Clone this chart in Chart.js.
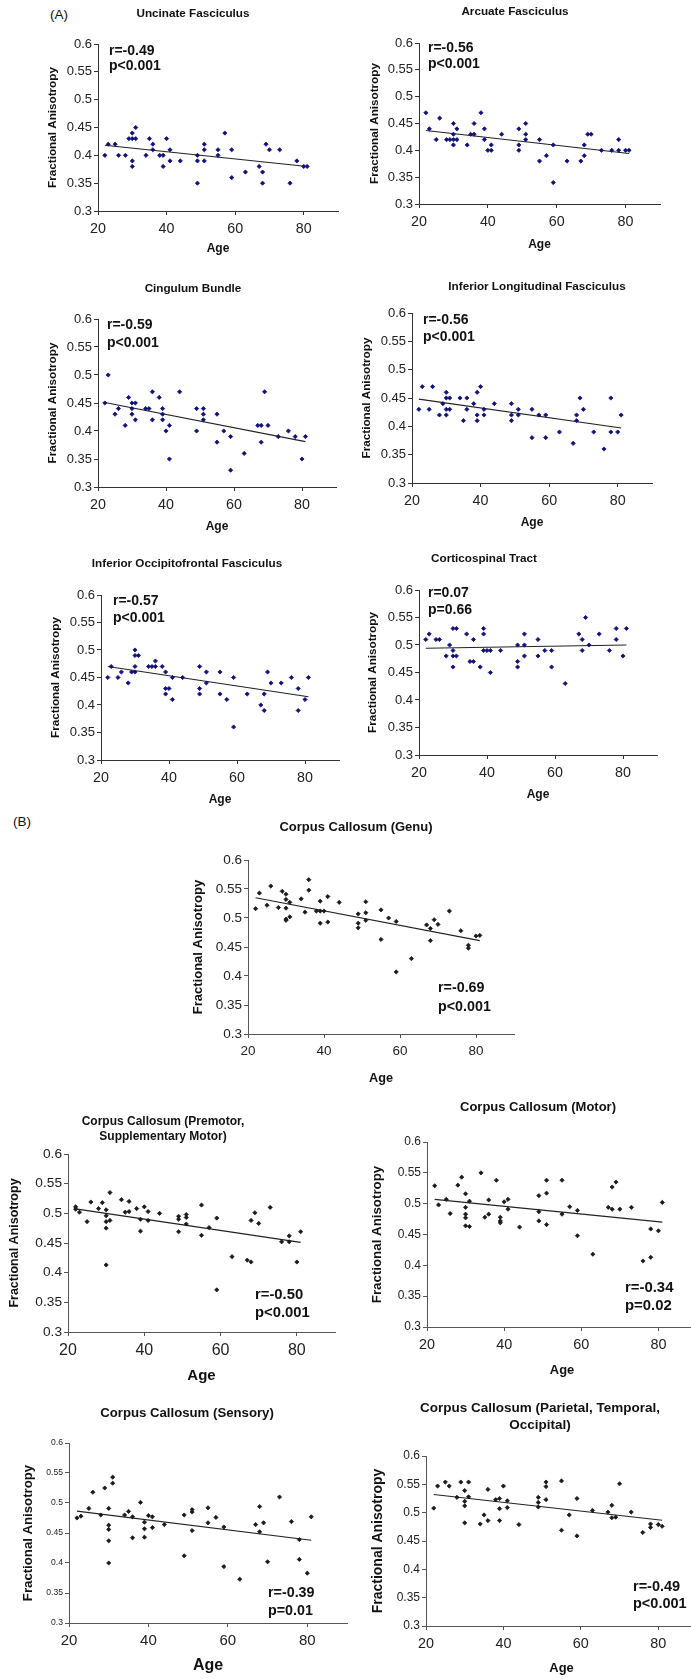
<!DOCTYPE html>
<html>
<head>
<meta charset="utf-8">
<title>Fractional anisotropy vs age</title>
<script src="https://cdn.jsdelivr.net/npm/chart.js@4/dist/chart.umd.min.js"></script>
<style>
  html, body { margin: 0; padding: 0; background: #fff; overflow: hidden; }
  body { position: relative; width: 691px; height: 1679px; font-family: "Liberation Sans", Arial, sans-serif; }
  canvas { position: absolute; }
  .tag { position: absolute; font-size: 13.5px; color: #111; line-height: 16px; }
</style>
</head>
<body>
<div class="tag" style="left:50px;top:7px">(A)</div>
<div class="tag" style="left:13px;top:814px">(B)</div>
<script>
// axis ticks shared by every panel
const xTicks = [20, 40, 60, 80];
const yTicks = [0.3, 0.35, 0.4, 0.45, 0.5, 0.55, 0.6];
const yTickLabels = ["0.3", "0.35", "0.4", "0.45", "0.5", "0.55", "0.6"];
const fitAges = [22, 81];

// (A) tracts
const uncinateAge = [22,23,25,26,28,29,30,30,30,30,31,31,34,35,36,36,38,39,39,40,41,41,44,49,49,49,51,51,51,55,55,57,59,59,63,67,68,68,69,70,73,76,78,80,81];
const uncinateFA = [0.40,0.42,0.42,0.40,0.40,0.43,0.44,0.43,0.39,0.38,0.45,0.43,0.40,0.43,0.42,0.41,0.40,0.40,0.38,0.43,0.41,0.39,0.39,0.40,0.39,0.35,0.42,0.41,0.39,0.41,0.40,0.44,0.41,0.36,0.37,0.38,0.37,0.35,0.42,0.41,0.41,0.35,0.39,0.38,0.38];
const uncinateFit = [0.418, 0.380];

const arcuateAge = [22,23,25,26,28,29,30,30,30,30,31,31,34,35,36,36,38,39,39,40,41,41,44,49,49,49,51,51,51,55,55,57,59,59,63,67,68,68,69,70,73,76,78,78,80,81];
const arcuateFA = [0.47,0.44,0.42,0.46,0.42,0.42,0.45,0.43,0.42,0.41,0.44,0.42,0.41,0.43,0.45,0.43,0.47,0.44,0.42,0.40,0.41,0.40,0.43,0.44,0.41,0.40,0.45,0.43,0.42,0.42,0.38,0.39,0.41,0.34,0.38,0.38,0.41,0.39,0.43,0.43,0.40,0.40,0.42,0.40,0.40,0.40];
const arcuateFit = [0.437, 0.394];

const cingulumAge = [22,23,25,26,28,29,30,30,30,31,31,34,35,36,36,38,39,39,39,40,41,41,44,49,49,51,51,51,55,55,57,59,59,63,67,68,68,69,70,73,76,78,80,81];
const cingulumFA = [0.45,0.50,0.43,0.44,0.41,0.46,0.45,0.44,0.43,0.45,0.42,0.44,0.44,0.47,0.42,0.46,0.44,0.43,0.42,0.40,0.41,0.35,0.47,0.44,0.40,0.44,0.43,0.42,0.43,0.38,0.40,0.39,0.33,0.36,0.41,0.41,0.38,0.47,0.41,0.39,0.40,0.39,0.35,0.39];
const cingulumFit = [0.451, 0.381];

const ilfAge = [22,23,25,26,28,29,30,30,30,30,31,31,34,35,36,36,38,39,39,39,40,41,41,44,49,49,49,51,51,55,55,57,59,59,63,67,68,68,69,70,73,76,78,78,80,81];
const ilfFA = [0.43,0.47,0.43,0.47,0.42,0.44,0.46,0.45,0.43,0.42,0.45,0.43,0.45,0.41,0.45,0.43,0.44,0.46,0.42,0.41,0.47,0.43,0.42,0.44,0.44,0.42,0.41,0.43,0.42,0.43,0.38,0.42,0.42,0.38,0.39,0.37,0.42,0.41,0.45,0.43,0.39,0.36,0.45,0.39,0.39,0.42];
const ilfFit = [0.448, 0.397];

const ifofAge = [22,23,25,26,28,29,30,30,30,30,31,34,35,36,36,38,39,39,39,40,41,41,44,49,49,49,51,51,55,55,57,59,59,63,67,68,68,69,70,73,76,78,78,80,81];
const ifofFA = [0.45,0.47,0.45,0.46,0.44,0.46,0.50,0.49,0.47,0.46,0.49,0.47,0.47,0.48,0.47,0.47,0.46,0.43,0.42,0.43,0.45,0.41,0.45,0.47,0.43,0.42,0.46,0.44,0.46,0.42,0.41,0.45,0.36,0.42,0.40,0.42,0.39,0.46,0.44,0.44,0.45,0.43,0.39,0.41,0.45];
const ifofFit = [0.470, 0.415];

const cstAge = [22,23,25,26,28,29,30,30,30,30,31,31,34,35,36,36,38,39,39,39,40,41,41,44,49,49,49,51,51,51,55,55,57,59,59,63,67,68,68,69,70,73,76,78,78,80,81];
const cstFA = [0.51,0.52,0.51,0.51,0.48,0.50,0.53,0.49,0.48,0.46,0.53,0.48,0.52,0.47,0.51,0.47,0.46,0.53,0.52,0.49,0.49,0.49,0.45,0.49,0.50,0.47,0.46,0.52,0.50,0.48,0.51,0.48,0.49,0.49,0.46,0.43,0.52,0.51,0.49,0.55,0.50,0.52,0.49,0.53,0.51,0.48,0.53];
const cstFit = [0.494, 0.500];

// (B) corpus callosum segments
const genuAge = [22,23,25,26,28,29,30,30,30,30,30,31,31,34,35,36,36,38,39,39,39,40,41,41,44,49,49,49,51,51,51,55,55,57,59,59,63,67,68,68,69,70,73,76,78,78,80,81];
const genuFA = [0.516,0.543,0.522,0.555,0.518,0.546,0.541,0.532,0.517,0.498,0.496,0.527,0.502,0.533,0.510,0.566,0.548,0.512,0.529,0.512,0.491,0.512,0.537,0.493,0.527,0.507,0.491,0.483,0.528,0.509,0.496,0.514,0.463,0.500,0.494,0.407,0.430,0.488,0.482,0.461,0.497,0.489,0.512,0.478,0.453,0.448,0.469,0.470];
const genuFit = [0.535, 0.461];

const premotorAge = [22,22,23,25,26,28,29,30,30,30,30,30,31,31,34,35,36,36,38,39,39,40,41,41,44,49,49,49,51,51,51,55,55,57,59,59,63,67,68,68,69,70,73,76,78,78,80,81];
const premotorFA = [0.511,0.507,0.502,0.486,0.519,0.508,0.518,0.506,0.496,0.486,0.475,0.413,0.535,0.488,0.523,0.502,0.520,0.503,0.508,0.490,0.470,0.511,0.503,0.488,0.500,0.495,0.490,0.469,0.498,0.493,0.482,0.514,0.463,0.476,0.492,0.371,0.427,0.421,0.418,0.488,0.501,0.483,0.510,0.452,0.462,0.452,0.418,0.469];
const premotorFit = [0.5075, 0.451];

const motorAge = [22,23,25,26,28,29,30,30,30,30,30,31,31,34,35,36,36,38,39,39,39,40,41,41,44,49,49,49,51,51,51,55,55,57,59,59,63,67,68,68,69,70,73,76,78,78,80,81];
const motorFA = [0.529,0.498,0.507,0.484,0.530,0.543,0.516,0.494,0.483,0.477,0.464,0.504,0.463,0.550,0.478,0.506,0.483,0.538,0.478,0.472,0.469,0.503,0.507,0.491,0.462,0.513,0.487,0.472,0.538,0.517,0.466,0.538,0.483,0.495,0.489,0.448,0.418,0.494,0.527,0.491,0.535,0.491,0.494,0.407,0.413,0.459,0.456,0.502];
const motorFit = [0.507, 0.470];

const sensoryAge = [22,23,25,26,28,29,30,30,30,30,30,31,31,34,35,36,36,38,39,39,39,40,41,41,44,49,49,51,51,51,55,55,57,59,59,63,67,68,68,69,70,73,76,78,78,80,81];
const sensoryFA = [0.475,0.478,0.491,0.518,0.480,0.525,0.491,0.463,0.456,0.437,0.400,0.543,0.533,0.480,0.486,0.477,0.442,0.501,0.468,0.457,0.443,0.479,0.477,0.459,0.464,0.480,0.412,0.489,0.485,0.454,0.492,0.467,0.476,0.460,0.394,0.373,0.464,0.494,0.452,0.467,0.402,0.510,0.469,0.439,0.406,0.383,0.477];
const sensoryFit = [0.4865, 0.438];

const parietalAge = [22,23,25,26,28,29,30,30,30,30,31,31,34,35,36,36,38,39,39,39,40,41,41,44,49,49,49,51,51,51,55,55,57,59,59,63,67,68,68,69,70,73,76,78,78,80,81];
const parietalFA = [0.508,0.547,0.554,0.547,0.527,0.554,0.539,0.520,0.512,0.482,0.554,0.528,0.480,0.496,0.541,0.486,0.523,0.525,0.507,0.486,0.547,0.521,0.509,0.479,0.527,0.518,0.510,0.554,0.546,0.523,0.556,0.469,0.496,0.525,0.459,0.504,0.501,0.513,0.491,0.492,0.551,0.501,0.465,0.480,0.474,0.479,0.476];
const parietalFit = [0.532, 0.4866];

const FONT = '"Liberation Sans", Arial, sans-serif';

// font sizes: title, y ticks, x ticks, y title, x title, r/p note
const fontsA = { title: 11.7, yTick: 13, xTick: 14.3, yTitle: 11.7, xTitle: 12, note: 14 };

// layout of each panel in page pixels
const panels = [
  { title: ["Uncinate Fasciculus"], tx: 193, ty: 14, age: uncinateAge, fa: uncinateFA, fit: uncinateFit,
    r: "r=-0.49", p: "p<0.001", note: [109, 51, 15], plot: [98, 338, 44, 211], yTitleX: 53, xTitleY: 249, f: fontsA, color: "#10107a" },
  { title: ["Arcuate Fasciculus"], tx: 515, ty: 12, age: arcuateAge, fa: arcuateFA, fit: arcuateFit,
    r: "r=-0.56", p: "p<0.001", note: [428, 48, 16.5], plot: [419, 660, 43, 204], yTitleX: 375, xTitleY: 245, f: fontsA, color: "#10107a" },
  { title: ["Cingulum Bundle"], tx: 193, ty: 289, age: cingulumAge, fa: cingulumFA, fit: cingulumFit,
    r: "r=-0.59", p: "p<0.001", note: [107, 325, 18], plot: [98, 336, 319, 487], yTitleX: 53, xTitleY: 527, f: fontsA, color: "#10107a" },
  { title: ["Inferior Longitudinal Fasciculus"], tx: 537, ty: 287, age: ilfAge, fa: ilfFA, fit: ilfFit,
    r: "r=-0.56", p: "p<0.001", note: [423, 320, 17.5], plot: [412, 652, 313, 483], yTitleX: 367, xTitleY: 523, f: fontsA, color: "#10107a" },
  { title: ["Inferior Occipitofrontal Fasciculus"], tx: 187, ty: 564, age: ifofAge, fa: ifofFA, fit: ifofFit,
    r: "r=-0.57", p: "p<0.001", note: [113, 601, 17.5], plot: [101, 339, 595, 760], yTitleX: 56, xTitleY: 800, f: fontsA, color: "#10107a" },
  { title: ["Corticospinal Tract"], tx: 484, ty: 559, age: cstAge, fa: cstFA, fit: cstFit,
    r: "r=0.07", p: "p=0.66", note: [428, 593, 17], plot: [419, 657, 590, 755], yTitleX: 373, xTitleY: 795, f: fontsA, color: "#10107a" },
  { title: ["Corpus Callosum (Genu)"], tx: 356, ty: 827, age: genuAge, fa: genuFA, fit: genuFit,
    r: "r=-0.69", p: "p<0.001", note: [438, 988, 19], plot: [248, 514, 860, 1034], yTitleX: 198, xTitleY: 1078,
    f: { title: 13, yTick: 13.5, xTick: 13.5, yTitle: 13, xTitle: 12.7, note: 14.3 }, color: "#1a1a1a" },
  { title: ["Corpus Callosum (Premotor,", "Supplementary Motor)"], tx: 163, ty: 1122, gap: 14.3, age: premotorAge, fa: premotorFA, fit: premotorFit,
    r: "r=-0.50", p: "p<0.001", note: [255, 1295, 18], plot: [68, 335, 1154, 1332], yTitleX: 15, xTitleY: 1376,
    f: { title: 12, yTick: 13.7, xTick: 16, yTitle: 12.5, xTitle: 15, note: 14.8 }, color: "#1a1a1a" },
  { title: ["Corpus Callosum (Motor)"], tx: 538, ty: 1107, age: motorAge, fa: motorFA, fit: motorFit,
    r: "r=-0.34", p: "p=0.02", note: [625, 1288, 18], plot: [427, 697, 1142, 1327], yTitleX: 377, xTitleY: 1370,
    f: { title: 13, yTick: 12, xTick: 14.4, yTitle: 13.3, xTitle: 12.9, note: 14.9 }, color: "#1a1a1a" },
  { title: ["Corpus Callosum (Sensory)"], tx: 187, ty: 1413, age: sensoryAge, fa: sensoryFA, fit: sensoryFit,
    r: "r=-0.39", p: "p=0.01", note: [268, 1593, 18], plot: [69, 347, 1443, 1623], yTitleX: 28, xTitleY: 1666,
    f: { title: 13.2, yTick: 8.6, xTick: 15, yTitle: 13.2, xTitle: 16, note: 14.3 }, color: "#1a1a1a" },
  { title: ["Corpus Callosum (Parietal, Temporal,", "Occipital)"], tx: 540, ty: 1408, gap: 17, age: parietalAge, fa: parietalFA, fit: parietalFit,
    r: "r=-0.49", p: "p<0.001", note: [633, 1587, 17], plot: [426, 697, 1456, 1626], yTitleX: 378, xTitleY: 1668,
    f: { title: 13.5, yTick: 12, xTick: 14.4, yTitle: 14, xTitle: 12.9, note: 14.5 }, color: "#1a1a1a" }
];

// draws the panel title and the r / p note
const panelText = {
  id: "panelText",
  afterDraw(chart, args, o) {
    const ctx = chart.ctx;
    ctx.save();
    ctx.fillStyle = "#111";
    ctx.textBaseline = "middle";
    ctx.textAlign = "center";
    ctx.font = "bold " + o.titleSize + "px " + FONT;
    o.title.forEach((line, i) => ctx.fillText(line, o.tx, o.ty + i * o.gap));
    ctx.textAlign = "left";
    ctx.font = "bold " + o.noteSize + "px " + FONT;
    ctx.fillText(o.r, o.nx, o.ny);
    ctx.fillText(o.p, o.nx, o.ny + o.ngap);
    ctx.restore();
  }
};

panels.forEach(pn => {
  const [pl, pr, pt, pb] = pn.plot;
  const f = pn.f;
  const yLH = f.yTitle * 1.2, xLH = f.xTitle * 1.2;
  const yLeft = pn.yTitleX - yLH / 2;
  const xBottom = pn.xTitleY + xLH / 2;
  const cl = Math.floor(yLeft - 4);
  const ct = Math.floor(pn.ty - f.title - 6);
  const cr = Math.ceil(pr + 6);
  const cb = Math.ceil(xBottom + 4);

  const canvas = document.createElement("canvas");
  canvas.width = cr - cl;
  canvas.height = cb - ct;
  canvas.style.left = cl + "px";
  canvas.style.top = ct + "px";
  document.body.appendChild(canvas);

  const axisColor = pn.color === "#10107a" ? "#333" : "#555";
  const points = pn.age.map((a, i) => ({ x: a, y: pn.fa[i] }));
  const line = fitAges.map((a, i) => ({ x: a, y: pn.fit[i] }));

  new Chart(canvas, {
    type: "scatter",
    data: {
      datasets: [
        { data: points, pointStyle: "rectRot", pointRadius: 2.1, pointBorderWidth: 0.8,
          backgroundColor: pn.color, borderColor: pn.color },
        { data: line, showLine: true, pointRadius: 0, borderColor: "#222", borderWidth: 1.1 }
      ]
    },
    options: {
      responsive: false,
      animation: false,
      devicePixelRatio: 1,
      layout: { padding: { left: yLeft - cl, top: pt - ct, right: cr - pr, bottom: cb - xBottom } },
      plugins: {
        legend: { display: false },
        tooltip: { enabled: false },
        panelText: {
          title: pn.title, tx: pn.tx - cl, ty: pn.ty - ct, gap: pn.gap || 14, titleSize: f.title,
          r: pn.r, p: pn.p, nx: pn.note[0] - cl, ny: pn.note[1] - ct, ngap: pn.note[2], noteSize: f.note
        }
      },
      scales: {
        x: {
          type: "linear", min: 20, max: 90,
          afterBuildTicks: s => { s.ticks = xTicks.map(v => ({ value: v })); },
          afterFit: s => { s.height = xBottom - pb; },
          grid: { drawOnChartArea: false, drawTicks: true, tickLength: 4, tickColor: axisColor, tickWidth: 1 },
          border: { display: true, color: axisColor, width: 1 },
          ticks: { autoSkip: false, maxRotation: 0, padding: 5, color: "#222", font: { family: FONT, size: f.xTick } },
          title: { display: true, text: "Age", color: "#111", padding: 0, font: { family: FONT, size: f.xTitle, weight: "bold" } }
        },
        y: {
          type: "linear", min: 0.3, max: 0.6,
          afterBuildTicks: s => { s.ticks = yTicks.map(v => ({ value: v })); },
          afterFit: s => { s.width = pl - yLeft; },
          grid: { drawOnChartArea: false, drawTicks: true, tickLength: 4, tickColor: axisColor, tickWidth: 1 },
          border: { display: true, color: axisColor, width: 1 },
          ticks: { autoSkip: false, padding: 2, color: "#222", font: { family: FONT, size: f.yTick },
                   callback: (v, i) => yTickLabels[i] },
          title: { display: true, text: "Fractional Anisotropy", color: "#111", padding: 0, font: { family: FONT, size: f.yTitle, weight: "bold" } }
        }
      }
    },
    plugins: [panelText]
  });
});
</script>
</body>
</html>
